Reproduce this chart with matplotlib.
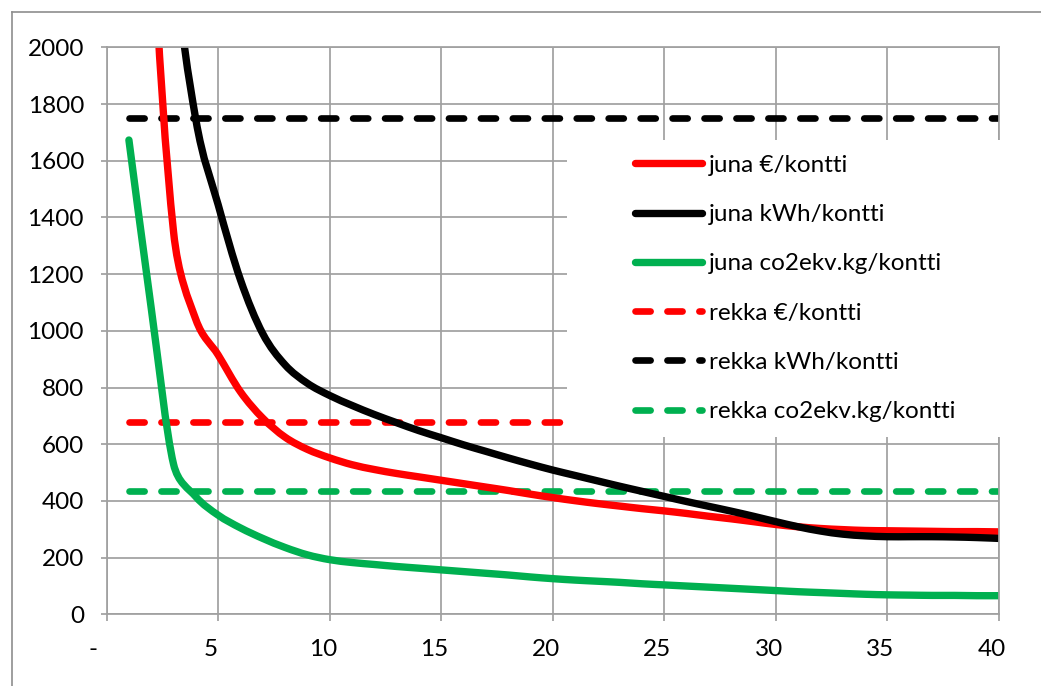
import numpy as np
import matplotlib
matplotlib.use("Agg")
import matplotlib.pyplot as plt
from matplotlib.path import Path
from matplotlib.patches import PathPatch, Rectangle
from matplotlib.lines import Line2D
from matplotlib.transforms import ScaledTranslation

plt.rcParams['font.family'] = ['Lato', 'DejaVu Sans']
plt.rcParams['lines.scale_dashes'] = False

# ---- data -------------------------------------------------------------
km = list(range(1, 41))

juna_eur = [5000, 2550, 1350, 1040, 915, 785, 692, 625, 582, 552,
            528, 511, 497, 485, 473, 461, 449, 437, 424, 412,
            401, 391, 382, 373, 365, 356, 346, 337, 327, 317,
            309, 303, 299, 296, 295, 294, 293, 292, 292, 291]
juna_kwh = [5000, 3500, 2350, 1745, 1445, 1180, 990, 880, 815, 772,
            737, 705, 676, 648, 623, 598, 575, 552, 530, 509,
            490, 471, 452, 434, 416, 398, 381, 364, 346, 327,
            309, 294, 283, 277, 274, 274, 274, 273, 271, 268]
juna_co2 = [1673, 1080, 530, 415, 350, 305, 268, 236, 210, 193,
            183, 176, 169, 163, 157, 151, 145, 139, 132, 126,
            121, 117, 113, 108, 104, 100, 96, 92, 88, 84,
            80, 77, 74, 71, 69, 68, 67, 67, 66, 66]

rekka_eur = 677
rekka_kwh = 1750
rekka_co2 = 436

labels = ["juna €/kontti", "juna kWh/kontti", "juna co2ekv.kg/kontti",
          "rekka €/kontti", "rekka kWh/kontti", "rekka co2ekv.kg/kontti"]

x_ticks = [0, 5, 10, 15, 20, 25, 30, 35, 40]
x_ticklabels = ["-", "5", "10", "15", "20", "25", "30", "35", "40"]
y_ticks = list(range(0, 2001, 200))

# ---- style ------------------------------------------------------------
RED, BLACK, GREEN = "#FF0000", "#000000", "#00B050"
GRID = "#A0A0A0"
SOLID_LW = 5.3
DASH_LW = 4.8
DASHES = (10.9, 12.1)
FS = 17.5

W, H, DPI = 1041, 686, 100
fig = plt.figure(figsize=(W / DPI, H / DPI), dpi=DPI)
ax_l, ax_r, ax_t, ax_b = 106.6, 999.0, 47.3, 614.4
ax = fig.add_axes([ax_l / W, 1 - ax_b / H, (ax_r - ax_l) / W, (ax_b - ax_t) / H])

xmin, xmax, ymin, ymax = 0, 40, 0, 2000
ax.set_xlim(xmin, xmax)
ax.set_ylim(ymin, ymax)

# pixel size of one data unit, used by the spreadsheet-style smoothing
sx = (ax_r - ax_l) / (xmax - xmin)
sy = (ax_b - ax_t) / (ymax - ymin)


def smooth_path(xs, ys):
    """Bezier path through the points with spreadsheet-style smoothing."""
    P = np.column_stack([xs, ys]).astype(float)
    S = np.array([sx, sy])
    n = len(P)
    verts = [P[0]]
    codes = [Path.MOVETO]
    f = 1.0 / 6.0
    for i in range(n - 1):
        p0 = P[i - 1] if i > 0 else P[i]
        p1, p2 = P[i], P[i + 1]
        p3 = P[i + 2] if i + 2 < n else P[i + 1]
        d12 = np.hypot(*((p2 - p1) * S))
        d02 = np.hypot(*((p2 - p0) * S))
        d13 = np.hypot(*((p3 - p1) * S))
        f1 = f if (d02 == 0 or d02 * f <= d12 / 2) else d12 / (2 * d02)
        f2 = f if (d13 == 0 or d13 * f <= d12 / 2) else d12 / (2 * d13)
        c1 = p1 + f1 * (p2 - p0)
        c2 = p2 - f2 * (p3 - p1)
        verts += [c1, c2, p2]
        codes += [Path.CURVE4] * 3
    return Path(verts, codes)


# grid, spines, ticks
ax.set_axisbelow(True)
ax.set_xticks(x_ticks)
ax.set_xticklabels(x_ticklabels)
ax.set_yticks(y_ticks)
ax.grid(True, color=GRID, linewidth=1.25)
for s in ax.spines.values():
    s.set_color(GRID)
    s.set_linewidth(1.25)
ax.tick_params(axis='y', direction='out', length=4.3, width=1.25, color=GRID,
               labelsize=FS, pad=12)
ax.tick_params(axis='x', direction='out', length=5.0, width=1.25, color=GRID,
               labelsize=FS, pad=12.5)

# x labels sit slightly left of their ticks
for lab, txt in zip(ax.get_xticklabels(), x_ticklabels):
    dx = -13.5 if txt == "-" else -7.0
    lab.set_transform(lab.get_transform() + ScaledTranslation(dx / DPI, 0, fig.dpi_scale_trans))

# truck lines (constant)
xd = np.array(km, dtype=float)
for val, col in [(rekka_eur, RED), (rekka_kwh, BLACK), (rekka_co2, GREEN)]:
    ax.plot(xd, np.full_like(xd, val), color=col, lw=DASH_LW,
            dashes=DASHES, dash_capstyle='round', zorder=2)

# train curves (smoothed)
for ys, col in [(juna_eur, RED), (juna_kwh, BLACK), (juna_co2, GREEN)]:
    ax.add_patch(PathPatch(smooth_path(km, ys), fill=False, edgecolor=col,
                           lw=SOLID_LW, capstyle='round', joinstyle='round',
                           zorder=2.2))

# white legend area
ax.add_patch(Rectangle((567 / W, 1 - 436.5 / H), (1004 - 567) / W, (436.5 - 140) / H,
                       transform=fig.transFigure, facecolor='white',
                       edgecolor='none', zorder=3, clip_on=False))

handles = [
    Line2D([], [], color=RED, lw=SOLID_LW, solid_capstyle='round'),
    Line2D([], [], color=BLACK, lw=SOLID_LW, solid_capstyle='round'),
    Line2D([], [], color=GREEN, lw=SOLID_LW, solid_capstyle='round'),
    Line2D([], [], color=RED, lw=DASH_LW, dashes=DASHES, dash_capstyle='round'),
    Line2D([], [], color=BLACK, lw=DASH_LW, dashes=DASHES, dash_capstyle='round'),
    Line2D([], [], color=GREEN, lw=DASH_LW, dashes=DASHES, dash_capstyle='round'),
]
leg = ax.legend(handles, labels, loc='center left',
                bbox_to_anchor=(635 / W, 1 - 288.5 / H), bbox_transform=fig.transFigure,
                frameon=False, fontsize=FS, handlelength=2.75, handletextpad=0.3,
                labelspacing=1.16, borderpad=0, borderaxespad=0)
leg.set_zorder(5)

# outer chart border
fig.add_artist(Line2D([12 / W, 12 / W], [0, 1 - 12 / H], transform=fig.transFigure,
                      color="#8E8E8E", lw=1.2))
fig.add_artist(Line2D([12 / W, 1], [1 - 12 / H, 1 - 12 / H], transform=fig.transFigure,
                      color="#8E8E8E", lw=1.2))

fig.savefig("out.png", dpi=DPI)
